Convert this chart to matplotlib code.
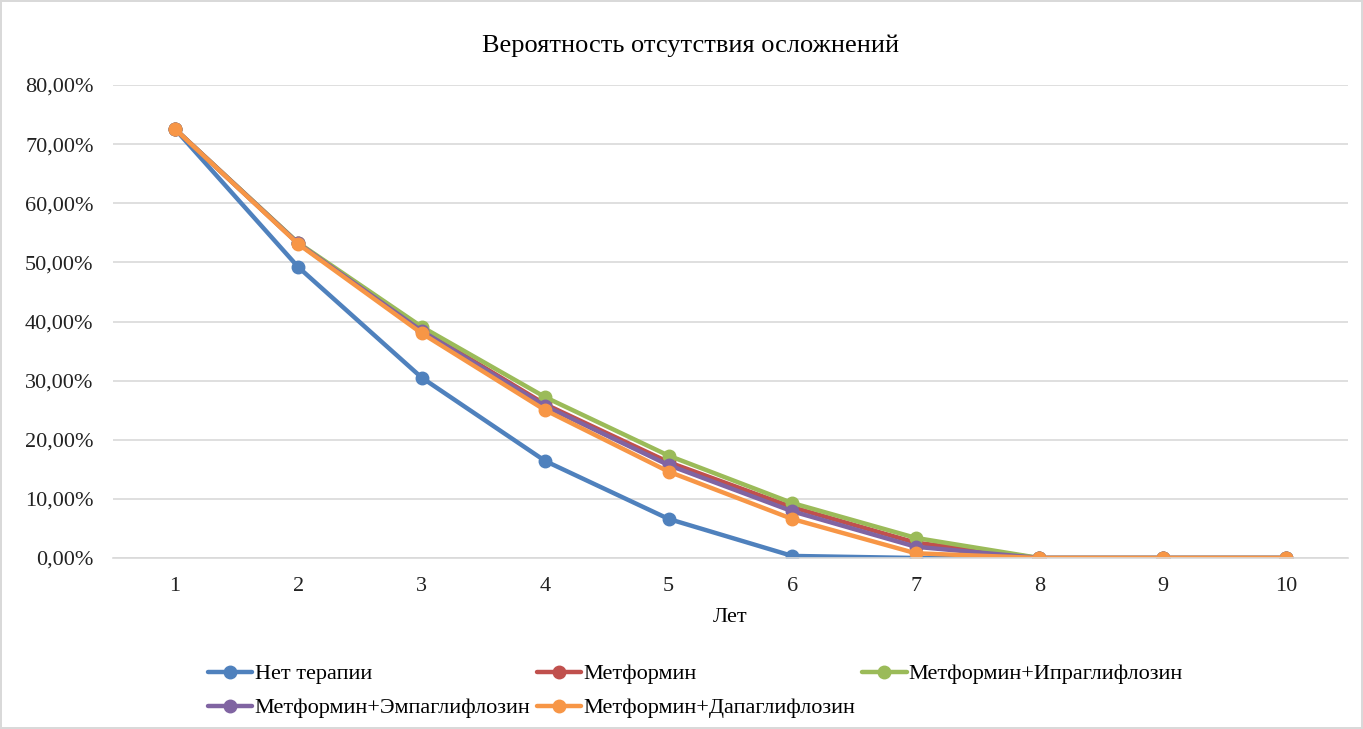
"""Probability of no complications by years of therapy."""

import matplotlib
matplotlib.use('Agg')
import matplotlib.pyplot as plt
from matplotlib.ticker import FuncFormatter

plt.rcParams['font.family'] = ['Liberation Serif', 'DejaVu Serif']

years = [1, 2, 3, 4, 5, 6, 7, 8, 9, 10]

no_therapy = [72.6, 49.2, 30.5, 16.4, 6.6, 0.35, 0.0, 0.0, 0.0, 0.0]
metformin = [72.6, 53.2, 38.6, 26.0, 16.2, 8.6, 2.6, 0.0, 0.0, 0.0]
ipragliflozin = [72.6, 53.3, 39.1, 27.2, 17.3, 9.3, 3.4, 0.0, 0.0, 0.0]
empagliflozin = [72.6, 53.2, 38.4, 25.7, 15.7, 7.9, 1.9, 0.0, 0.0, 0.0]
dapagliflozin = [72.6, 53.1, 38.0, 25.0, 14.6, 6.6, 0.8, 0.0, 0.0, 0.0]

labels = ['Нет терапии', 'Метформин', 'Метформин+Ипраглифлозин',
          'Метформин+Эмпаглифлозин', 'Метформин+Дапаглифлозин']
colors = ['#4F81BD', '#C0504D', '#9BBB59', '#8064A2', '#F79646']
series = [no_therapy, metformin, ipragliflozin, empagliflozin, dapagliflozin]

fig = plt.figure(figsize=(13.63, 7.29), dpi=100)
fig.patch.set_edgecolor('#d9d9d9')
fig.patch.set_linewidth(1.5)
ax = fig.add_axes([113 / 1363, 1 - 558 / 729, (1348 - 113) / 1363, (558 - 85) / 729])

handles = []
for values, label, color in zip(series, labels, colors):
    h, = ax.plot(years, values, color=color, lw=3.2, marker='o', ms=9,
                 label=label, solid_capstyle='round')
    handles.append(h)

ax.set_xlim(0.5, 10.5)
ax.set_ylim(0, 80)
ax.set_xticks(years)
ax.set_yticks(range(0, 81, 10))
ax.yaxis.set_major_formatter(FuncFormatter(lambda v, _: f'{v:.2f}%'.replace('.', ',')))
ax.tick_params(axis='both', length=0, labelsize=16, colors='#222222')
ax.tick_params(axis='y', pad=14)
ax.tick_params(axis='x', pad=14)
ax.grid(axis='y', color='#d9d9d9', lw=1.2)
ax.set_axisbelow(True)
for side in ['top', 'right', 'left']:
    ax.spines[side].set_visible(False)
ax.spines['bottom'].set_color('#d9d9d9')
ax.spines['bottom'].set_linewidth(1.2)

ax.set_xlabel('Лет', fontsize=16, labelpad=8)
fig.text(691 / 1363, 1 - 46 / 729, 'Вероятность отсутствия осложнений',
         ha='center', va='center', fontsize=19)

# row-major legend order: matplotlib fills columns first
order = [0, 3, 1, 4, 2]
fig.legend([handles[i] for i in order], [labels[i] for i in order],
           ncol=3, loc='upper left', bbox_to_anchor=(199 / 1363, 1 - 655 / 729),
           frameon=False, fontsize=16, handlelength=2.0, handletextpad=0.1,
           columnspacing=0.3, labelspacing=0.6, borderaxespad=0)

fig.savefig('out.png', dpi=100)
